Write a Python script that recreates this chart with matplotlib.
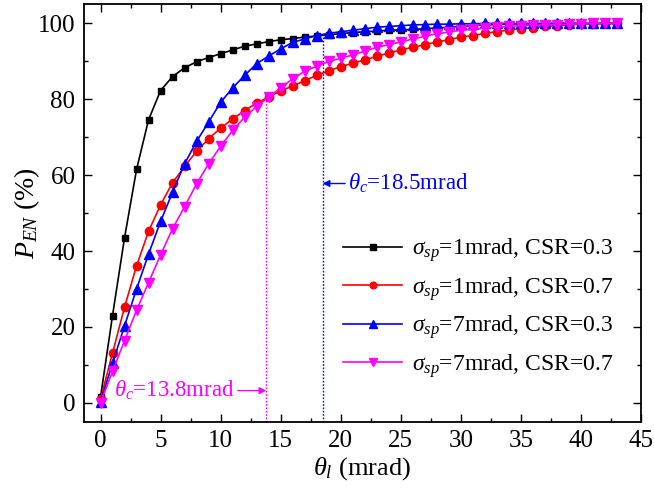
import numpy as np
import matplotlib
matplotlib.use("Agg")
import matplotlib.pyplot as plt
from matplotlib.ticker import MultipleLocator

plt.rcParams['font.family'] = ['Liberation Serif', 'DejaVu Serif']
plt.rcParams['mathtext.fontset'] = 'custom'
plt.rcParams['mathtext.rm'] = 'Liberation Serif'
plt.rcParams['mathtext.it'] = 'Liberation Serif:italic'

# Divergence angle (mrad)
theta = list(range(0, 44))

# Enclosed power fraction (%)
p_s1_c03 = [1.5, 23.0, 43.5, 61.5, 74.6, 82.3, 86.0, 88.3, 89.9, 91.0,
            92.0, 93.0, 94.0, 94.6, 95.2, 95.7, 96.0, 96.4, 96.7, 97.0,
            97.3, 97.6, 97.8, 98.0, 98.2, 98.3, 98.4, 98.6, 98.8, 99.0,
            99.2, 99.4, 99.6, 99.7, 99.8, 99.9, 99.9, 99.9, 100.0, 100.0,
            100.0, 100.0, 100.0, 100.0]
p_s1_c07 = [1.0, 13.1, 25.2, 36.1, 45.2, 52.2, 58.0, 62.3, 66.3, 69.6,
            72.4, 74.8, 77.0, 79.0, 80.6, 82.2, 83.5, 84.9, 86.3, 87.5,
            88.6, 89.5, 90.4, 91.3, 92.2, 93.0, 93.7, 94.4, 95.1, 95.7,
            96.4, 96.8, 97.4, 97.8, 98.3, 98.6, 98.9, 99.2, 99.4, 99.6,
            99.8, 99.9, 100.0, 100.0]
p_s7_c03 = [0.3, 10.4, 20.3, 30.0, 39.2, 47.8, 55.5, 63.0, 68.9, 74.0,
            79.2, 83.0, 86.3, 89.4, 91.4, 93.3, 95.0, 95.9, 96.8, 97.4,
            97.8, 98.2, 98.6, 99.0, 99.2, 99.4, 99.6, 99.7, 99.8, 99.8,
            99.9, 99.9, 100.0, 100.0, 100.0, 100.0, 100.0, 100.0, 100.0, 100.0,
            100.0, 100.0, 100.0, 100.0]
p_s7_c07 = [0.0, 8.3, 16.4, 24.4, 31.7, 39.0, 45.9, 51.7, 57.7, 63.0,
            67.6, 71.8, 75.3, 78.1, 80.6, 83.0, 85.4, 87.4, 88.7, 90.0,
            90.8, 91.7, 92.7, 93.7, 94.4, 95.1, 95.9, 96.6, 97.3, 97.7,
            98.2, 98.4, 98.8, 99.0, 99.2, 99.4, 99.5, 99.6, 99.7, 99.8,
            99.9, 100.0, 100.0, 100.0]

labels = [r'$\sigma_{sp}$=1mrad, CSR=0.3',
          r'$\sigma_{sp}$=1mrad, CSR=0.7',
          r'$\sigma_{sp}$=7mrad, CSR=0.3',
          r'$\sigma_{sp}$=7mrad, CSR=0.7']

theta_c_blue = 18.5
theta_c_mag = 13.8
p_at_blue = 96.8
p_at_mag = 80.6

fig = plt.figure(figsize=(6.54, 4.95), dpi=100)
ax = fig.add_axes([0.128, 0.148, 0.852, 0.843])

series = [
    (p_s1_c03, 'black', 's', 5.0),
    (p_s1_c07, 'red', 'o', 6.0),
    (p_s7_c03, 'blue', '^', 6.5),
    (p_s7_c07, 'magenta', 'v', 6.5),
]
for (vals, col, mk, ms), lab in zip(series, labels):
    ax.plot(theta, vals, color=col, marker=mk, markersize=ms, lw=1.2,
            label=lab)

# Critical-angle guides
ax.plot([theta_c_blue, theta_c_blue], [-5, p_at_blue], color='blue',
        ls=(0, (1.2, 1.2)), lw=1.0)
ax.plot([theta_c_mag, theta_c_mag], [-5, p_at_mag], color='magenta',
        ls=(0, (1.2, 1.2)), lw=1.0)

ax.annotate(r'$\theta_c$=18.5mrad', xy=(theta_c_blue, 57.8),
            xytext=(20.6, 57.8), color='blue', fontsize=16.5,
            va='center', ha='left',
            arrowprops=dict(arrowstyle='-|>', color='blue', lw=1.0,
                            shrinkA=0, shrinkB=0, mutation_scale=10))
ax.annotate(r'$\theta_c$=13.8mrad', xy=(theta_c_mag, 3.2),
            xytext=(11.2, 3.2), color='magenta', fontsize=16.5,
            va='center', ha='right',
            arrowprops=dict(arrowstyle='-|>', color='magenta', lw=1.0,
                            shrinkA=0, shrinkB=0, mutation_scale=10))

ax.set_xlim(-1.4, 45)
ax.set_ylim(-5, 105)
ax.xaxis.set_major_locator(MultipleLocator(5))
ax.xaxis.set_minor_locator(MultipleLocator(2.5))
ax.yaxis.set_major_locator(MultipleLocator(20))
ax.yaxis.set_minor_locator(MultipleLocator(10))
ax.tick_params(which='both', direction='in', top=True, right=True,
               labelsize=18, width=1.0, pad=6)
ax.tick_params(which='major', length=6)
ax.tick_params(which='minor', length=3)
for s in ax.spines.values():
    s.set_linewidth(1.3)

ax.set_xlabel(r'$\theta_l$ (mrad)', fontsize=19, labelpad=2)
ax.set_ylabel(r'$P_{EN}$ (%)', fontsize=20, labelpad=-3)

leg = ax.legend(loc='lower right', bbox_to_anchor=(0.988, 0.05),
                frameon=False, fontsize=17, handlelength=2.5,
                markerscale=0.8, labelspacing=0.45, handletextpad=0.4)

fig.savefig('out.png', dpi=100)
